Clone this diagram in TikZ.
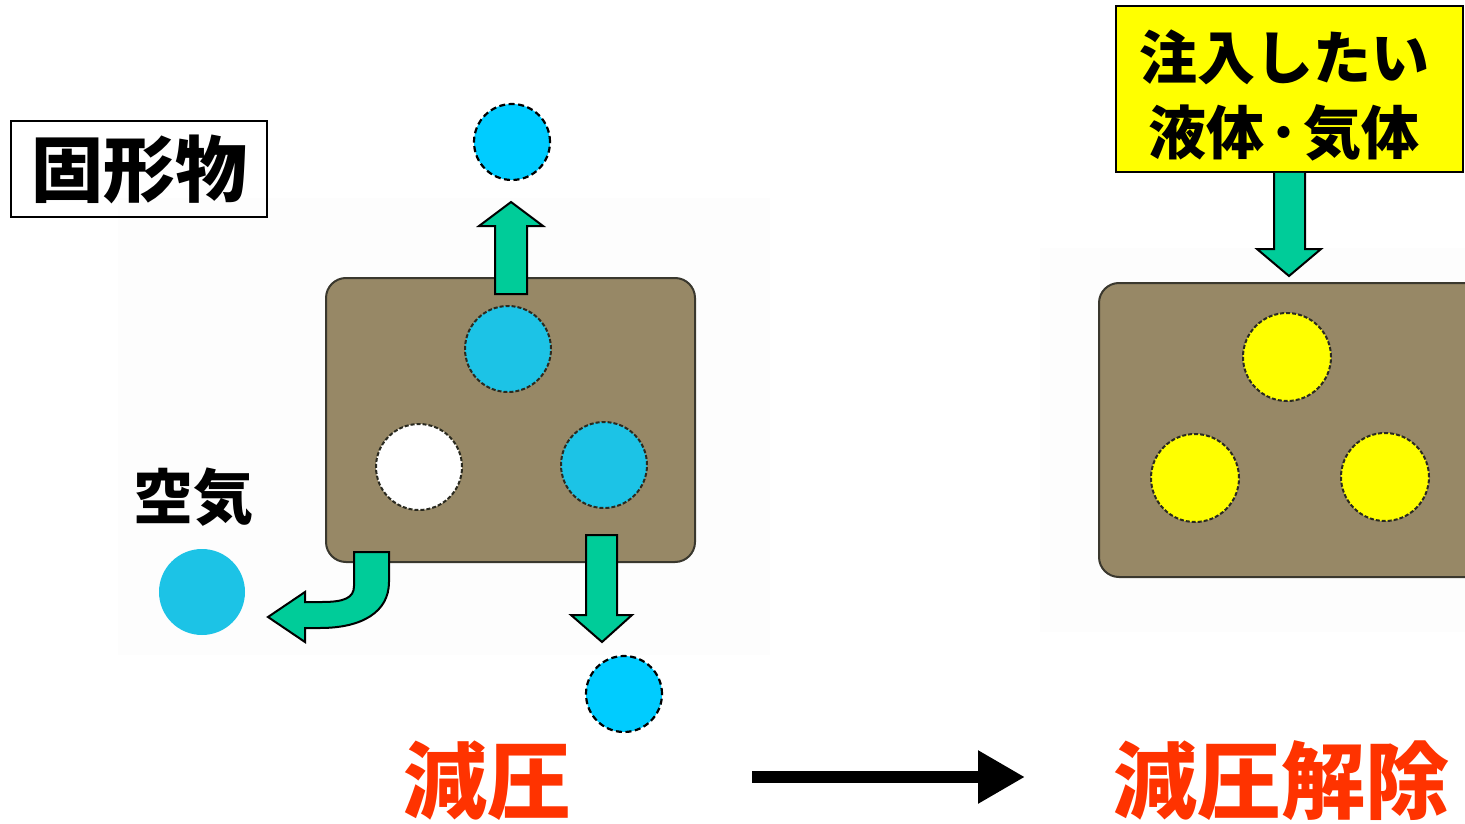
\documentclass[tikz,border=0pt]{standalone}
\usepackage{fontspec}
\newfontfamily\jp{Noto Sans CJK JP}
\usetikzlibrary{arrows.meta}
\definecolor{solid}{HTML}{978866}
\definecolor{solidedge}{HTML}{3A382E}
\definecolor{poreedge}{HTML}{2A2A20}
\definecolor{gasA}{HTML}{1CC3E6}
\definecolor{gasB}{HTML}{00CCFF}
\definecolor{flow}{HTML}{00CC99}
\definecolor{liquid}{HTML}{FFFF00}
\definecolor{title}{HTML}{FF3300}
\definecolor{haze}{HTML}{FDFDFD}
\tikzset{
  px/.style={x=1pt,y=-1pt},
  block/.style={fill=solid,draw=solidedge,line width=2pt,rounded corners=20pt},
  pore/.style={circle,minimum size=86pt,inner sep=0pt,draw=poreedge,line width=2pt,dash pattern=on 4pt off 2pt},
  freegas/.style={circle,minimum size=76pt,inner sep=0pt,fill=gasB,draw=black,line width=2.2pt,dash pattern=on 6pt off 3.5pt},
  flowarrow/.style={fill=flow,draw=black,line width=2pt,line join=miter},
  jlabel/.style={font=\jp\bfseries\fontsize{60}{75}\selectfont,inner sep=0pt,align=center},
  caption/.style={font=\jp\bfseries\fontsize{84}{84}\selectfont,text=title,inner sep=0pt},
}
\begin{document}
\begin{tikzpicture}[px]
\useasboundingbox (0,0) rectangle (1465,824);
\clip (0,0) rectangle (1465,824);
\fill[white] (0,0) rectangle (1465,824);
% faint backdrops behind the two stages
\fill[haze] (118,198) rectangle (770,655);
\fill[haze] (1040,248) rectangle (1465,632);

% ---------- left stage: decompression ----------
\node[draw=black,line width=1.5pt,minimum width=256pt,minimum height=96pt,inner sep=0pt,
      font=\jp\bfseries\fontsize{72}{72}\selectfont] (solidlabel) at (139,169) {固形物};

\draw[block] (326,278) rectangle (695,562);
\node[pore,fill=gasA] (poreTop) at (508,349) {};
\node[pore,fill=white] (poreLeft) at (419,467) {};
\node[pore,fill=gasA] (poreRight) at (604,465) {};

\node[freegas] (gasUp) at (512,142) {};
\node[freegas] (gasDown) at (624,694) {};
\node[circle,minimum size=86pt,inner sep=0pt,fill=gasA] (air) at (202,592) {};
\node[jlabel] (airlabel) at (193,497) {空気};

% straight outflow arrows
\draw[flowarrow] (495,294) -- (495,226) -- (479,226) -- (511,202) -- (543,226) -- (527,226) -- (527,294) -- cycle;
\draw[flowarrow] (586,535) -- (586,615) -- (571,615) -- (602,642) -- (632,615) -- (617,615) -- (617,535) -- cycle;
% bent arrow towards the air bubble
\draw[flowarrow] (354,552) -- (354,586) .. controls (354,598) and (344,602) .. (322,602)
  -- (305,602) -- (305,592) -- (268,617) -- (305,642) -- (305,628) -- (320,628)
  .. controls (362,628) and (389,612) .. (389,582) -- (389,552) -- cycle;

\node[caption] (stage1) at (487,781) {減圧};

% ---------- transition arrow ----------
\coordinate (arrS) at (752,777);
\coordinate (arrE) at (1025,777);
\draw[line width=12pt,-{Triangle[length=47pt,width=50pt]}] (arrS) -- (arrE);

% ---------- right stage: release ----------
\node[draw=black,line width=2pt,fill=liquid,minimum width=347pt,minimum height=166pt,inner sep=0pt] (inject) at (1289.5,89) {};
\node[font=\jp\bfseries\fontsize{58}{75}\selectfont,align=center,inner sep=0pt] (injecttext) at (1284,95) {注入したい\\液体\hspace{5pt}･\hspace{5pt}気体};

\draw[flowarrow] (1274,173) -- (1274,249) -- (1257,249) -- (1289,276) -- (1321,249) -- (1305,249) -- (1305,173);
\draw[block] (1099,283) rectangle (1490,577);
\node[pore,fill=liquid,minimum size=88pt] (fillTop) at (1287,357) {};
\node[pore,fill=liquid,minimum size=88pt] (fillLeft) at (1195,478) {};
\node[pore,fill=liquid,minimum size=88pt] (fillRight) at (1385,477) {};

\node[caption] (stage2) at (1281,781) {減圧解除};
\end{tikzpicture}
\end{document}
